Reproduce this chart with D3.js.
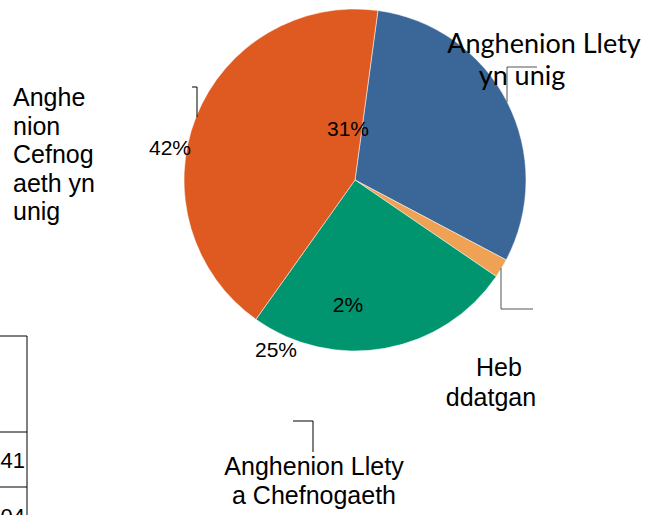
<!DOCTYPE html>
<html>
<head>
<meta charset="utf-8">
<script src="https://cdn.jsdelivr.net/npm/d3@7"></script>
<style>
  body { margin: 0; background: #fff; }
  text { font-family: "Liberation Sans", Arial, sans-serif; fill: #000; }
</style>
</head>
<body>
<script>
// slice data, clockwise from just right of 12 o'clock
var categories = ["Anghenion Llety yn unig", "Heb ddatgan", "Anghenion Llety a Chefnogaeth", "Anghenion Cefnogaeth yn unig"];
var shares = [30.6, 1.8, 25.3, 42.3];
var colours = ["#3b6698", "#efa154", "#00956f", "#df5a20"];

// the table cells that poke in from the left
var tableValues = ["441", "104"];

var width = 654,
    height = 515,
    cx = 355,
    cy = 180,
    radius = 171;

// where the labels ended up (they are displaced, as in the original)
var labelLayout = [
    { lines: ["Anghenion Llety", "yn unig"], xs: [544, 522], y: 53, dy: 32, anchor: "middle", font: "Lato", size: 27,
      pct: [-7, -51], leader: [[537, 67], [507, 67], [507, 102]], stroke: "#555" },
    { lines: ["Heb", "ddatgan"], xs: [499, 491], y: 376, dy: 30, anchor: "middle", size: 25,
      pct: [-7, 125], leader: [[501, 268], [501, 309], [533, 309]], stroke: "#555" },
    { lines: ["Anghenion Llety", "a Chefnogaeth"], xs: [314, 314], y: 475, dy: 29, anchor: "middle", size: 25,
      pct: [-79, 170], leader: [[293, 421], [313, 421], [313, 452]], stroke: "#000" },
    { lines: ["Anghe", "nion", "Cefnog", "aeth yn", "unig"], xs: [13, 13, 13, 13, 13], y: 106, dy: 28.6, anchor: "start", size: 25,
      pct: [-185, -32], leader: [[192, 87], [197, 87], [197, 117]], stroke: "#000" }
];

var svg = d3.select("body").append("svg")
    .attr("width", width)
    .attr("height", height);

// partial table on the left edge
var table = svg.append("g").attr("class", "table");
table.append("line").attr("x1", 27).attr("y1", 336).attr("x2", 27).attr("y2", height).attr("stroke", "#000");
[336, 432, 487].forEach(function(y) {
    table.append("line").attr("x1", 0).attr("y1", y).attr("x2", 27).attr("y2", y).attr("stroke", "#000");
});
table.selectAll("text")
    .data(tableValues)
    .enter().append("text")
    .attr("x", 25)
    .attr("y", function(d, i) { return 468 + i * 56; })
    .attr("text-anchor", "end")
    .attr("font-size", 22)
    .text(function(d) { return d; });

var pie = d3.pie()
    .sort(null)
    .startAngle(7.7 * Math.PI / 180)
    .endAngle(7.7 * Math.PI / 180 + 2 * Math.PI);

var arc = d3.arc().innerRadius(0).outerRadius(radius);

var arcs = pie(shares);

var g = svg.append("g").attr("transform", "translate(" + cx + "," + cy + ")");

g.selectAll("path")
    .data(arcs)
    .enter().append("path")
    .attr("d", arc)
    .attr("fill", function(d, i) { return colours[i]; })
    .attr("stroke", "#fff")
    .attr("stroke-width", 0.5);

var pctFormat = function(v) { return Math.round(v) + "%"; };

g.selectAll(".pct")
    .data(arcs)
    .enter().append("text")
    .attr("class", "pct")
    .attr("x", function(d, i) { return labelLayout[i].pct[0]; })
    .attr("y", function(d, i) { return labelLayout[i].pct[1]; })
    .attr("text-anchor", "middle")
    .attr("dy", "0.35em")
    .attr("font-size", 21)
    .text(function(d) { return pctFormat(d.data); });

var line = d3.line();

svg.selectAll(".leader")
    .data(labelLayout)
    .enter().append("path")
    .attr("class", "leader")
    .attr("d", function(d) { return line(d.leader); })
    .attr("fill", "none")
    .attr("stroke", function(d) { return d.stroke; })
    .attr("stroke-width", 1);

var cat = svg.selectAll(".cat")
    .data(categories)
    .enter().append("text")
    .attr("class", "cat")
    .attr("text-anchor", function(d, i) { return labelLayout[i].anchor; })
    .attr("font-size", function(d, i) { return labelLayout[i].size; })
    .style("font-family", function(d, i) { return labelLayout[i].font || null; });

cat.each(function(d, i) {
    var lay = labelLayout[i];
    d3.select(this).selectAll("tspan")
        .data(lay.lines)
        .enter().append("tspan")
        .attr("x", function(t, j) { return lay.xs[j]; })
        .attr("y", function(t, j) { return lay.y + j * lay.dy; })
        .text(function(t) { return t; });
});
</script>
</body>
</html>
